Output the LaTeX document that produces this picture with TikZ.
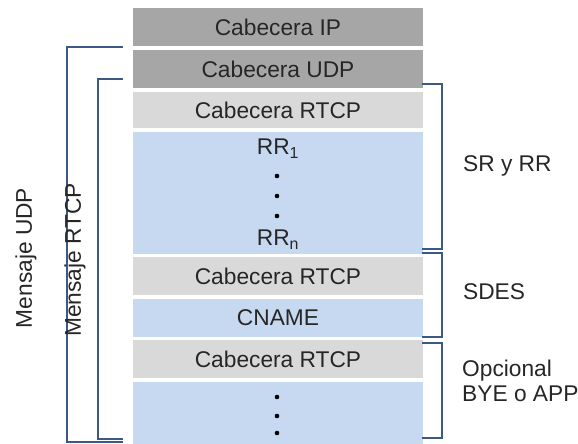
\documentclass[tikz,border=0pt]{standalone}
\usepackage{fontspec}
\setmainfont{Liberation Sans}
\usepackage{tikz}

\begin{document}
\begin{tikzpicture}[x=0.03cm,y=-0.03cm]
    \definecolor{dunkel}{HTML}{A6A6A6}
    \definecolor{hell}{HTML}{D9D9D9}
    \definecolor{blau}{HTML}{C6D9F1}
    \definecolor{klammer}{HTML}{3A5A85}
    \tikzset{
      schrift/.style={font=\fontsize{19.4}{23.5}\selectfont, text=black!85},
      feld/.style={schrift, minimum width=8.7cm, inner sep=0pt},
      kopf/.style={feld, fill=dunkel},
      rtcp/.style={feld, fill=hell},
      inhalt/.style={feld, fill=blau},
      klammerlinie/.style={draw=klammer, line width=1.7pt}
    }
    \useasboundingbox (0,0) rectangle (578,444);
    \node[kopf, minimum height=1.14cm] (ip) at (278,27) {Cabecera IP};
    \node[kopf, minimum height=1.14cm] (udp) at (278,69) {Cabecera UDP};
    \node[rtcp, minimum height=1.08cm] (rtcpa) at (278,110) {Cabecera RTCP};
    \node[inhalt, minimum height=3.66cm] (rr) at (278,193) {};
    \node[rtcp, minimum height=1.14cm] (rtcpb) at (278,276) {Cabecera RTCP};
    \node[inhalt, minimum height=1.14cm] (cname) at (278,318) {CNAME};
    \node[rtcp, minimum height=1.14cm] (rtcpc) at (278,359) {Cabecera RTCP};
    \node[inhalt, minimum height=1.86cm] (rest) at (278,413) {};
    \node[schrift] (rreins) at (278,149) {RR\textsubscript{1}};  %erster Bericht
    \node[schrift] (rrn) at (278,240) {RR\textsubscript{n}};  %letzter Bericht
    \foreach \y in {176,196,216,397,416,433}  %Punkte
    {
      \fill[black] (277,\y) circle (2.3);
    };
    % Klammern links
    \draw[klammerlinie] (123,47) -- (67,47) -- (67,442) -- (123,442);
    \draw[klammerlinie] (123,79) -- (98,79) -- (98,439) -- (123,439);
    % Klammern rechts
    \draw[klammerlinie] (422,84) -- (442,84) -- (442,249) -- (422,249);
    \draw[klammerlinie] (422,253) -- (442,253) -- (442,337) -- (422,337);
    \draw[klammerlinie] (422,343) -- (442,343) -- (442,438) -- (422,438);
    \node[schrift, rotate=90] (udpmsg) at (26,258) {Mensaje UDP};
    \node[schrift, rotate=90] (rtcpmsg) at (75,260) {Mensaje RTCP};
    \node[schrift, anchor=west] (srrr) at (459,166) {SR y RR};
    \node[schrift, anchor=west] (sdes) at (459,292) {SDES};
    \node[schrift, anchor=west, align=left, inner sep=0pt] (opc) at (462,381) {Opcional\\[-0.1em]BYE o APP};
\end{tikzpicture}
\end{document}
